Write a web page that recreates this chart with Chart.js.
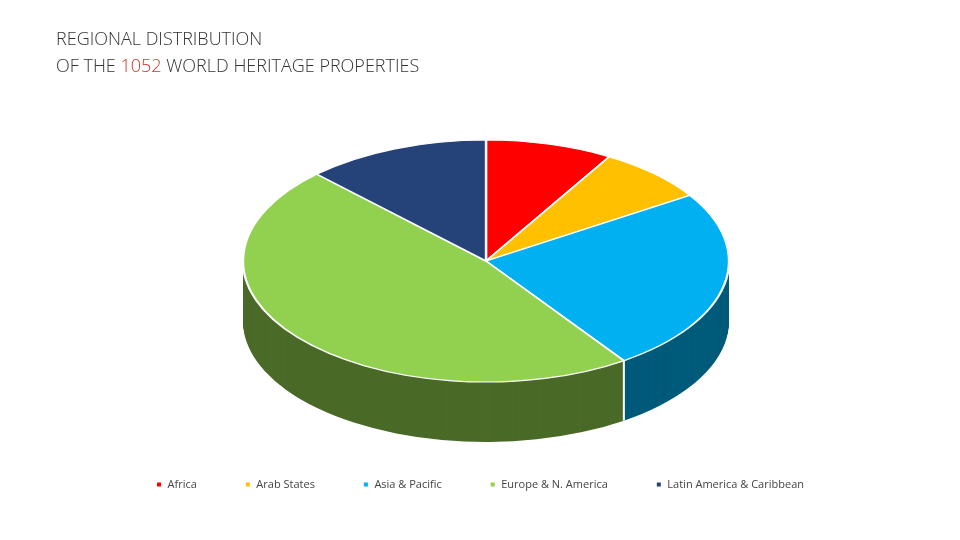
<!DOCTYPE html>
<html><head><meta charset="utf-8">
<script src="https://cdn.jsdelivr.net/npm/chart.js@4/dist/chart.umd.min.js"></script>
<style>
body{margin:0;width:960px;height:540px;background:#fff;overflow:hidden;font-family:"Open Sans",sans-serif}
#t{position:absolute;left:56px;top:25px;font-size:18px;line-height:27px;color:#333;font-weight:300}
#t span{color:#c0392b}
#w{position:absolute;left:0;top:0;width:960px;height:540px}
</style></head><body>
<div id="w"><canvas id="c"></canvas></div>
<div id="t">REGIONAL DISTRIBUTION<br>OF THE <span>1052</span> WORLD HERITAGE PROPERTIES</div>
<script>
const regions = ["Africa","Arab States","Asia & Pacific","Europe & N. America","Latin America & Caribbean"];
const counts = [89, 78, 258, 498, 129];
const topColors = ["#ff0000","#ffc000","#00b0f0","#92d050","#254379"];
const sideColors = ["#a00000","#a07800","#005a7a","#4a6a28","#142648"];

const CX=486, CY=261, RX=243, RY=121, DEPTH=60;
function setT(ctx, el, dy){
  const R=el.outerRadius;
  ctx.translate(CX, CY+dy);
  ctx.scale(RX/R, RY/R);
  ctx.translate(-el.x, -el.y);
}
const pie3d = {
  id:'pie3d',
  beforeDatasetsDraw(chart){
    const ctx=chart.ctx, meta=chart.getDatasetMeta(0);
    for(let d=DEPTH; d>=1; d--){
      meta.data.forEach((el,i)=>{
        ctx.save(); setT(ctx, el, d);
        ctx.beginPath(); ctx.moveTo(el.x,el.y);
        ctx.arc(el.x,el.y,el.outerRadius,el.startAngle,el.endAngle);
        ctx.closePath(); ctx.fillStyle=sideColors[i]; ctx.fill();
        ctx.restore();
      });
    }
    // edges on side
    meta.data.forEach((el)=>{
      const a=el.startAngle, R=el.outerRadius;
      const sy=Math.sin(a);
      if(sy>0){
        ctx.save(); ctx.strokeStyle='#fff'; ctx.lineWidth=2;
        const px=CX+Math.cos(a)*RX, py=CY+sy*RY;
        ctx.beginPath(); ctx.moveTo(px,py); ctx.lineTo(px,py+DEPTH); ctx.stroke(); ctx.restore();
      }
    });
    ctx.save();
    const el=meta.data[0]; setT(ctx, el, 0);
  },
  afterDatasetsDraw(chart){ chart.ctx.restore(); }
};
new Chart(document.getElementById('c'),{
  type:'pie',
  data:{labels:regions,datasets:[{data:counts,backgroundColor:topColors,borderColor:'#fff',borderWidth:2}]},
  options:{responsive:true,maintainAspectRatio:false,animation:false,
    layout:{padding:{top:20,bottom:40}},
    plugins:{tooltip:{enabled:false},
      legend:{position:'bottom',labels:{boxWidth:6,boxHeight:6,padding:48,color:'#444',font:{family:'Open Sans',size:11}}}}},
  plugins:[pie3d]
});
</script></body></html>
